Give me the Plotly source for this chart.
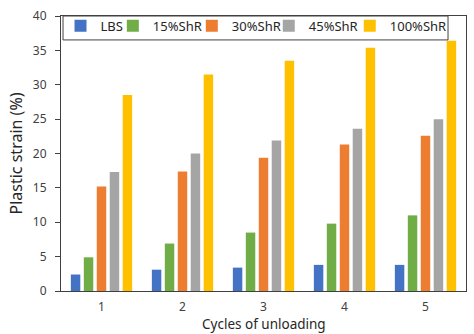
import plotly.graph_objects as go

cycles = ["1", "2", "3", "4", "5"]
series_names = ["LBS", "15%ShR", "30%ShR", "45%ShR", "100%ShR"]
lbs = [2.4, 3.1, 3.4, 3.8, 3.8]
shr15 = [4.9, 6.9, 8.5, 9.8, 11.0]
shr30 = [15.2, 17.4, 19.4, 21.3, 22.6]
shr45 = [17.3, 20.0, 21.9, 23.6, 25.0]
shr100 = [28.5, 31.5, 33.5, 35.4, 36.4]
colors = ["#4472C4", "#70AD47", "#ED7D31", "#A5A5A5", "#FFC000"]
legend_x = [-0.0012, 0.128, 0.323, 0.513, 0.713]

font = "Noto Sans, Open Sans, sans-serif"
fig = go.Figure()
legend_ids = ["legend", "legend2", "legend3", "legend4", "legend5"]
for name, vals, col, lid in zip(series_names, [lbs, shr15, shr30, shr45, shr100], colors, legend_ids):
    fig.add_trace(go.Bar(x=cycles, y=vals, name=name, marker_color=col, marker_line_width=0, legend=lid))

legend_layout = {}
for lid, lx in zip(legend_ids, legend_x):
    legend_layout[lid] = dict(orientation="h", x=lx, y=0.964, xanchor="left", yanchor="middle",
                              bgcolor="rgba(0,0,0,0)", borderwidth=0, itemwidth=30,
                              font=dict(family=font, size=13, color="#262626"))

fig.add_shape(type="rect", xref="paper", yref="paper", x0=0.005, x1=0.9556, y0=0.913, y1=1.0,
              line=dict(color="#404040", width=1), fillcolor="white", layer="above")

fig.add_annotation(text="Cycles of unloading", xref="paper", yref="paper", x=0.5, y=-0.085,
                   xanchor="center", yanchor="top", showarrow=False, borderpad=0,
                   font=dict(family=font, size=13.5, color="#262626"))

fig.update_layout(
    width=474, height=334,
    margin=dict(l=61, r=7, t=14, b=43),
    plot_bgcolor="white", paper_bgcolor="white",
    barmode="group", bargap=0.2, bargroupgap=0.27,
    font=dict(family=font, size=12, color="#404040"),
    showlegend=True,
    xaxis=dict(showline=True, linecolor="#404040", linewidth=1, mirror=True,
               ticks="", ticklabelstandoff=5,
               tickfont=dict(size=12, color="#404040")),
    yaxis=dict(range=[0, 40], dtick=5, showline=True, linecolor="#404040", linewidth=1, mirror=True,
               ticks="outside", ticklen=5, tickcolor="#404040", showgrid=False, zeroline=False,
               ticklabelstandoff=6,
               title=dict(text="Plastic strain (%)", font=dict(size=16, color="#262626"), standoff=6),
               tickfont=dict(size=12, color="#404040")),
    **legend_layout,
)
fig.write_html("out.html")
